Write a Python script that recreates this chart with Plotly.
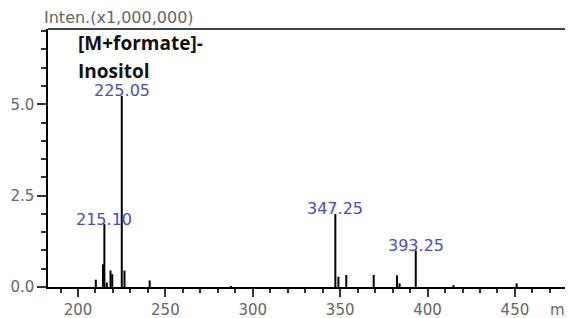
import plotly.graph_objects as go

# Peak list (m/z, intensity in millions)
mz = [210.2, 214.3, 215.10, 216.5, 218.6, 219.6, 225.05, 226.6, 241.0, 287.5,
      347.25, 349.0, 353.5, 369.2, 382.5, 384.0, 393.25, 414.8, 451.0]
inten = [0.20, 0.62, 1.72, 0.12, 0.45, 0.35, 5.23, 0.45, 0.18, 0.03,
         2.00, 0.28, 0.33, 0.33, 0.32, 0.10, 1.00, 0.05, 0.10]

label_mz = [225.05, 215.10, 347.25, 393.25]
label_txt = ["225.05", "215.10", "347.25", "393.25"]
label_int = [5.23, 1.72, 2.00, 1.00]

x_ticks = [200, 250, 300, 350, 400, 450]
y_ticks = [0, 2.5, 5.0]
y_ticktext = ["0.0", "2.5", "5.0"]

xs, ys = [], []
for m, h in zip(mz, inten):
    xs += [m, m, None]
    ys += [0, h, None]

fig = go.Figure()
fig.add_trace(go.Scatter(x=xs, y=ys, mode="lines",
                         line=dict(color="black", width=2), hoverinfo="skip",
                         showlegend=False))

TICKFONT = dict(family="DejaVu Sans", size=15, color="#666666")
annotations = []
for m, h, t in zip(label_mz, label_int, label_txt):
    annotations.append(dict(x=m, y=h, xref="x", yref="y", text=t, showarrow=False,
                            xanchor="center", yanchor="middle", yshift=5,
                            font=dict(family="DejaVu Sans", size=16, color="#4b4bc6")))

annotations += [
    dict(text="Inten.(x1,000,000)", xref="paper", yref="paper", x=-0.0113, y=1.043,
         xanchor="left", yanchor="middle", showarrow=False,
         font=dict(family="DejaVu Sans", size=16, color="#666666")),
    dict(text="[M+formate]-", xref="paper", yref="paper", x=0.0525, y=0.946,
         xanchor="left", yanchor="middle", showarrow=False,
         font=dict(family="Open Sans", size=19, color="#111111", weight=700)),
    dict(text="Inositol", xref="paper", yref="paper", x=0.0525, y=0.837,
         xanchor="left", yanchor="middle", showarrow=False,
         font=dict(family="Open Sans", size=19, color="#111111", weight=700)),
    dict(text="m/z", xref="paper", yref="paper", x=0.938, y=-0.089,
         xanchor="left", yanchor="middle", showarrow=False, font=TICKFONT),
]

fig.update_layout(
    width=573, height=318,
    margin=dict(l=40, r=0, t=21, b=39),
    paper_bgcolor="white", plot_bgcolor="white",
    font=dict(family="DejaVu Sans", size=15, color="#666666"),
    xaxis=dict(range=[182.84, 487.8], showgrid=False, zeroline=False,
               showline=True, linecolor="black", linewidth=2, mirror=False,
               tickmode="array", tickvals=x_ticks,
               ticks="outside", ticklen=8, tickcolor="#333", tickwidth=1.5,
               minor=dict(dtick=10, tick0=0, ticks="outside", ticklen=4, tickcolor="#333"),
               tickfont=TICKFONT),
    yaxis=dict(range=[0, 7.06], showgrid=False, zeroline=False,
               showline=True, linecolor="black", linewidth=1.5,
               tickmode="array", tickvals=y_ticks, ticktext=y_ticktext,
               ticks="outside", ticklen=9, tickcolor="#333", tickwidth=1.5,
               minor=dict(dtick=0.5, tick0=0, ticks="outside", ticklen=5, tickcolor="#333"),
               tickfont=TICKFONT),
    shapes=[dict(type="line", xref="paper", yref="paper", x0=0, x1=1, y0=1, y1=1,
                 line=dict(color="#444", width=2))],
    annotations=annotations,
)

fig.write_html("out.html")
